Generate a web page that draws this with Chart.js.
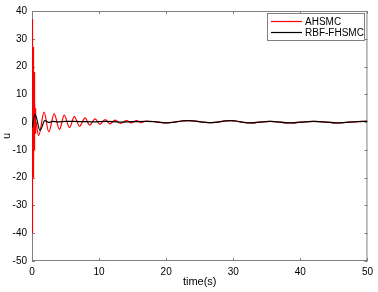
<!DOCTYPE html>
<html>
<head>
<meta charset="utf-8">
<script src="https://cdn.jsdelivr.net/npm/chart.js@4"></script>
<style>
  html, body { margin: 0; padding: 0; background: #fff; }
  #wrap { width: 378px; height: 292px; }
</style>
</head>
<body>
<div id="wrap"><canvas id="c" width="378" height="292"></canvas></div>
<script>
// AHSMC control input, chattering part right after t = 0
const tRedSpike = [0, 0.02, 0.05, 0.08, 0.11, 0.14, 0.17, 0.20, 0.23, 0.26, 0.30, 0.33, 0.36, 0.40, 0.44, 0.48, 0.52, 0.56, 0.60];
const uRedSpike = [0, -40, 37, -34, 30, -23, 27, -20, 25, -15, 18, -10, 15, -6, 8, -4, 5, -3, 0];

// AHSMC control input, oscillating tail
const tRed = [0.60, 1.0, 1.8, 2.5, 3.3, 4.1, 4.8, 5.6, 6.3, 7.1, 7.9, 8.6, 9.4, 10.1, 10.9, 11.6, 12.4, 13.2, 14.1, 14.8, 15.6, 16.3, 17.0,
  18.2, 19.8, 23.2, 26.6, 29.6, 32.5, 35.5, 38.4, 42.0, 45.7, 48.5, 50];
const uRed = [0, -4.8, 3.6, -3.5, 3.0, -2.6, 2.5, -2.0, 2.0, -1.5, 1.5, -1.1, 1.2, -0.8, 0.9, -0.6, 0.7, -0.5, 0.5, -0.3, 0.5, -0.2, 0.4,
  0.2, -0.3, 0.5, -0.2, 0.5, -0.3, 0.3, -0.3, 0.3, -0.3, 0.2, 0.3];

// RBF-FHSMC control input
const tBlack = [0, 0.45, 1.2, 1.9, 2.5, 3.1, 3.9, 5.0, 7.0, 9.0, 11.0, 13.0, 15.0, 17.0,
  18.2, 19.8, 23.2, 26.6, 29.6, 32.5, 35.5, 38.4, 42.0, 45.7, 48.5, 50];
const uBlack = [-2, 2.9, -3.0, 0.5, -0.1, 0.3, 0.1, 0.3, 0.2, 0.1, 0.3, 0.0, 0.2, 0.3,
  0.2, -0.3, 0.5, -0.2, 0.5, -0.3, 0.3, -0.3, 0.3, -0.3, 0.2, 0.3];

const xTicks = [0, 10, 20, 30, 40, 50];
const yTicks = [-50, -40, -30, -20, -10, 0, 10, 20, 30, 40];
const legendNames = ["AHSMC", "RBF-FHSMC"];
const legendColors = ["#ff0000", "#000000"];

const FONT = "'Liberation Sans', Arial, sans-serif";

const toPoints = (ts, us) => ts.map((t, i) => ({ x: t, y: us[i] }));

// MATLAB-like box with inward ticks (under the lines) and legend (over them)
const boxPlugin = {
  id: "box",
  beforeDatasetsDraw(chart) {
    const { ctx, chartArea: a, scales } = chart;
    ctx.save();
    ctx.strokeStyle = "#808080";
    ctx.lineWidth = 1;
    ctx.strokeRect(a.left + 0.5, a.top + 0.5, a.right - a.left - 1, a.bottom - a.top - 1);
    ctx.beginPath();
    xTicks.forEach(v => {
      const px = Math.round(scales.x.getPixelForValue(v)) + 0.5;
      ctx.moveTo(px, a.bottom); ctx.lineTo(px, a.bottom - 3);
      ctx.moveTo(px, a.top); ctx.lineTo(px, a.top + 3);
    });
    yTicks.forEach(v => {
      const py = Math.round(scales.y.getPixelForValue(v)) + 0.5;
      ctx.moveTo(a.left, py); ctx.lineTo(a.left + 3, py);
      ctx.moveTo(a.right, py); ctx.lineTo(a.right - 3, py);
    });
    ctx.stroke();
    ctx.restore();
  },
  afterDatasetsDraw(chart) {
    const { ctx } = chart;
    const lx = 267, ly = 13, lw = 97, lh = 27;
    ctx.save();
    ctx.fillStyle = "#fff";
    ctx.fillRect(lx, ly, lw, lh);
    ctx.strokeStyle = "#808080";
    ctx.lineWidth = 1;
    ctx.strokeRect(lx + 0.5, ly + 0.5, lw, lh);
    ctx.font = "10px " + FONT;
    ctx.textBaseline = "middle";
    legendNames.forEach((name, i) => {
      const y = ly + 8.5 + i * 11;
      ctx.strokeStyle = legendColors[i];
      ctx.lineWidth = 1.2;
      ctx.beginPath();
      ctx.moveTo(lx + 4, y); ctx.lineTo(lx + 35, y);
      ctx.stroke();
      ctx.fillStyle = "#000";
      ctx.fillText(name, lx + 38, y + 0.5);
    });
    ctx.restore();
  }
};

new Chart(document.getElementById("c"), {
  type: "line",
  data: {
    datasets: [
      {
        label: legendNames[0],
        data: toPoints(tRedSpike, uRedSpike),
        borderColor: legendColors[0],
        borderWidth: 1.2,
        pointRadius: 0,
        tension: 0,
        order: 3
      },
      {
        label: legendNames[0],
        data: toPoints(tRed, uRed),
        borderColor: legendColors[0],
        borderWidth: 1.2,
        pointRadius: 0,
        cubicInterpolationMode: "monotone",
        order: 2
      },
      {
        label: legendNames[1],
        data: toPoints(tBlack, uBlack),
        borderColor: legendColors[1],
        borderWidth: 1.2,
        pointRadius: 0,
        cubicInterpolationMode: "monotone",
        order: 1
      }
    ]
  },
  options: {
    responsive: false,
    animation: false,
    layout: { padding: { top: 5, right: 8, left: 0, bottom: 0 } },
    plugins: { legend: { display: false }, tooltip: { enabled: false } },
    scales: {
      x: {
        type: "linear",
        min: 0, max: 50,
        grid: { display: false, drawTicks: false },
        border: { display: false },
        afterBuildTicks: s => { s.ticks = xTicks.map(v => ({ value: v })); },
        afterFit: s => { s.height = 31; },
        ticks: { color: "#000", font: { family: FONT, size: 10 }, padding: 5, maxRotation: 0 },
        title: { display: true, text: "time(s)", color: "#000", font: { family: FONT, size: 11 }, padding: { top: 0, bottom: 3 } }
      },
      y: {
        min: -50, max: 40,
        grid: { display: false, drawTicks: false },
        border: { display: false },
        afterBuildTicks: s => { s.ticks = yTicks.map(v => ({ value: v })); },
        afterFit: s => { s.width = 32; },
        ticks: { color: "#000", font: { family: FONT, size: 10 }, padding: 5 },
        title: { display: true, text: "u", color: "#000", font: { family: FONT, size: 11 }, padding: 0 }
      }
    }
  },
  plugins: [boxPlugin]
});
</script>
</body>
</html>
